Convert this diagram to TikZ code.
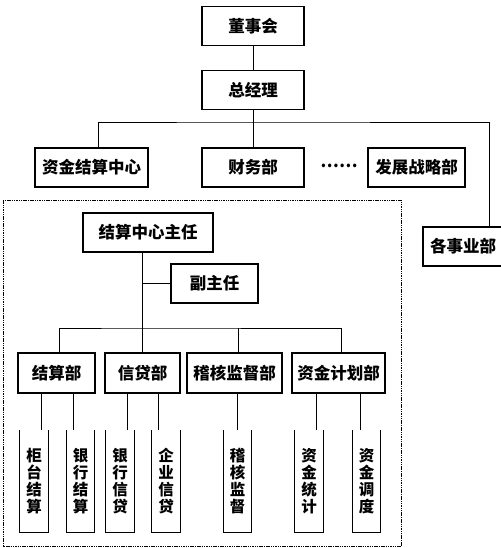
\documentclass[tikz,border=0pt]{standalone}
\usepackage{fontspec}
\newfontfamily\cjk{Noto Sans CJK SC}
\usetikzlibrary{positioning, calc}

\begin{document}
\begin{tikzpicture}[
  x=1pt, y=-1pt,
  every node/.style={font=\cjk\bfseries\fontsize{16.5pt}{18pt}\selectfont},
  %% box styles
  box/.style={draw, line width=1.1pt, inner sep=0pt,
    minimum height=39pt, align=center},
  leaf/.style={inner sep=0pt, minimum width=28pt,
    minimum height=102pt, align=center,
    font=\cjk\bfseries\fontsize{15.5pt}{17pt}\selectfont},
  link/.style={line width=0.9pt},
  frame/.style={line width=0.8pt, dash pattern=on 1.5pt off 0.8pt},
]
\useasboundingbox (0,0) rectangle (500,548);

%% =========================================================
%% TOP — board and general manager
%% =========================================================
\node[box, minimum width=102pt] (dsh) at (253,26)  {董事会};
\node[box, minimum width=102pt] (zjl) at (253,90)  {总经理};
\draw[link] (dsh) -- (zjl);

%% ROW 2 — departments
\node[box, minimum width=113pt] (zjjs) at (91.5,167.5)  {资金结算中心};
\node[box, minimum width=102pt] (cwb)  at (253,167.5)   {财务部};
\node (dots) at (339,166) {……};
\node[box, minimum width=97pt]  (fzzl) at (416.5,167.5) {发展战略部};
\node[box, minimum width=80pt]  (gsyb) at (463,246.5)   {各事业部};

\coordinate (bus1) at (253,122);
\draw[link] (zjl) -- (cwb);
\draw[link] ([xshift=7pt]zjjs.north) |- (bus1) -| ([xshift=26pt]gsyb.north);

%% =========================================================
%% LOWER — settlement centre
%% =========================================================
\draw[frame] (3,200) rectangle (401,546.5);

\node[box, minimum width=130pt] (jszr) at (148,232.5) {结算中心主任};
\node[box, minimum width=87pt]  (fzr)  at (214.5,283.5) {副主任};

%% ROW 3 — sections
\node[box, minimum width=77pt, minimum height=40pt] (jsb)  at (56.5,373)  {结算部};
\node[box, minimum width=75pt, minimum height=40pt] (xdb)  at (142.5,373) {信贷部};
\node[box, minimum width=95pt, minimum height=40pt] (jhjd) at (234.5,373) {稽核监督部};
\node[box, minimum width=93pt, minimum height=40pt] (zjjh) at (338.5,373) {资金计划部};

\coordinate (bus2) at (142.5,328);
\draw[link] (xdb.north |- jszr.south) -- (xdb.north);
\draw[link] (fzr.west) -- (fzr.west -| xdb.north);
\draw[link] ([xshift=2.5pt]jsb.north) |- (bus2) -| ([xshift=2.5pt]zjjh.north);
\draw[link] ([xshift=3.5pt]jhjd.north) -- ([xshift=3.5pt]jhjd.north |- bus2);

%% ROW 4 — leaves (open-top boxes)
\node[leaf] (gtjs) at (34,481)    {柜\\台\\结\\算};
\node[leaf] (yhjs) at (80.5,481)  {银\\行\\结\\算};
\node[leaf] (yhxd) at (120,481)   {银\\行\\信\\贷};
\node[leaf] (qyxd) at (166,481)   {企\\业\\信\\贷};
\node[leaf] (jhjd2) at (237.5,481) {稽\\核\\监\\督};
\node[leaf] (zjtj) at (309,481)   {资\\金\\统\\计};
\node[leaf] (zjdd) at (366.5,481) {资\\金\\调\\度};

\foreach \lf/\up/\dx in {gtjs/jsb/7, yhjs/jsb/-7, yhxd/xdb/7, qyxd/xdb/-8,
                         jhjd2/jhjd/0, zjtj/zjjh/7, zjdd/zjjh/-6} {
  \draw[link] (\lf.north west) |- (\lf.south east) -- (\lf.north east);
  \draw[link] ([xshift=\dx pt]\lf.north) -- ([xshift=\dx pt]\lf.north |- \up.south);
}

\end{tikzpicture}
\end{document}
